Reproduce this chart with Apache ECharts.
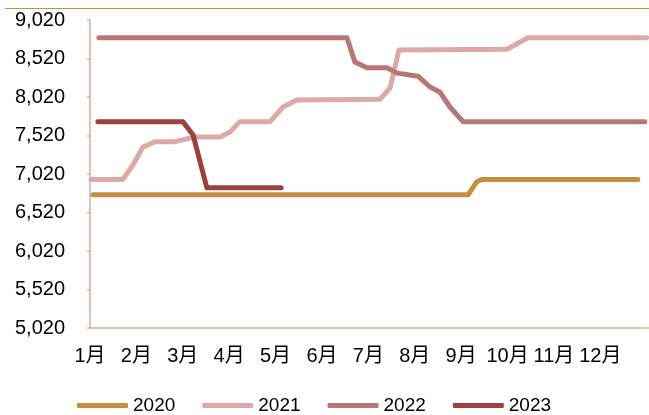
<!DOCTYPE html>
<html>
<head>
<meta charset="utf-8">
<script src="https://cdn.jsdelivr.net/npm/echarts@6/dist/echarts.min.js"></script>
<style>
html,body{margin:0;padding:0;background:#fff;}
#chart{width:649px;height:415px;}
</style>
</head>
<body>
<div id="chart"></div>
<script>
// x positions are in months from the "1月" tick (0 = 1月, 11 = 12月)
const monthLabels = ['1月','2月','3月','4月','5月','6月','7月','8月','9月','10月','11月','12月'];
const yTicks = [5020, 5520, 6020, 6520, 7020, 7520, 8020, 8520, 9020];
const seriesNames = ['2020', '2021', '2022', '2023'];

const x2020 = [0.065, 8.15, 8.34, 8.45, 11.81];
const v2020 = [6750, 6750, 6920, 6950, 6950];

const x2021 = [0.02, 0.71, 0.93, 1.14, 1.40, 1.83, 2.26, 2.80, 3.02, 3.23, 3.88, 4.16, 4.46, 6.25, 6.47, 6.66, 8.99, 9.44, 12.0];
const v2021 = [6950, 6950, 7140, 7370, 7440, 7440, 7500, 7500, 7565, 7700, 7700, 7890, 7980, 7990, 8140, 8630, 8640, 8790, 8790];

const x2022 = [0.19, 5.54, 5.71, 5.97, 6.40, 6.62, 7.07, 7.33, 7.54, 7.76, 8.04, 11.96];
const v2022 = [8790, 8790, 8475, 8400, 8400, 8330, 8290, 8150, 8085, 7890, 7700, 7700];

const x2023 = [0.17, 2.00, 2.22, 2.52, 4.12];
const v2023 = [7700, 7700, 7530, 6840, 6840];

const colors = ['#C68F3F', '#DCA9A8', '#B57876', '#9E403C'];
const xs = [x2020, x2021, x2022, x2023];
const vs = [v2020, v2021, v2022, v2023];

const font = 'Liberation Sans, Arial, Noto Sans CJK SC, sans-serif';
const axisColor = '#DCA9A8';

const chart = echarts.init(document.getElementById('chart'), null, {renderer: 'canvas'});
chart.setOption({
  animation: false,
  backgroundColor: '#fff',
  graphic: [{
    type: 'line',
    shape: {x1: 5, y1: 8.5, x2: 649, y2: 8.5},
    style: {stroke: '#C68F3F', lineWidth: 1}
  }],
  grid: {left: 90, right: 0, top: 20, bottom: 87},
  legend: {
    left: 72,
    top: 391,
    itemWidth: 51,
    itemHeight: 5,
    itemGap: 27,
    icon: 'roundRect',
    textStyle: {fontFamily: font, fontSize: 19, color: '#000'},
    data: seriesNames
  },
  xAxis: {
    type: 'value',
    min: 0,
    max: 12.05,
    splitLine: {show: false},
    axisLine: {show: true, lineStyle: {color: axisColor, width: 1.5}},
    axisTick: {show: false},
    axisLabel: {
      customValues: monthLabels.map((_, i) => i),
      formatter: v => monthLabels[Math.round(v)] || '',
      fontFamily: font, fontSize: 20, color: '#000', margin: 18
    }
  },
  yAxis: {
    type: 'value',
    min: yTicks[0],
    max: yTicks[yTicks.length - 1],
    splitLine: {show: false},
    axisLine: {show: true, lineStyle: {color: axisColor, width: 1.5}},
    axisTick: {show: true, length: 3, customValues: yTicks, lineStyle: {color: axisColor, width: 1.5}},
    axisLabel: {
      customValues: yTicks,
      formatter: v => v.toLocaleString('en-US'),
      fontFamily: font, fontSize: 20, color: '#000', margin: 25
    }
  },
  series: seriesNames.map((name, i) => ({
    name,
    type: 'line',
    symbol: 'none',
    showSymbol: false,
    color: colors[i],
    lineStyle: {color: colors[i], width: 5, cap: 'round', join: 'round'},
    data: xs[i].map((x, j) => [x, vs[i][j]])
  }))
});
</script>
</body>
</html>
